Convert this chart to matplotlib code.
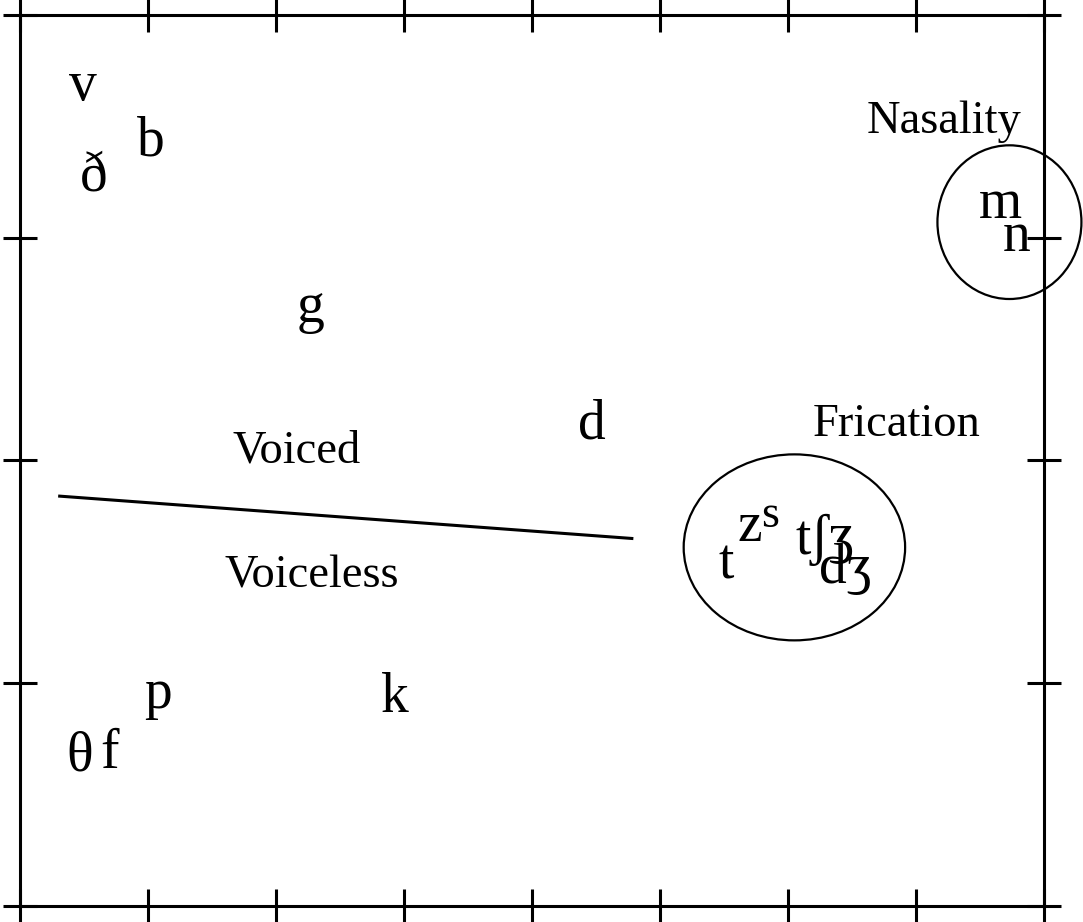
import matplotlib.pyplot as plt
from matplotlib.patches import Ellipse

# phoneme positions (x, y on a 0-8 by 0-4 grid, text baseline)
phonemes = ["v", "b", "ð", "g", "d", "p", "k", "θ", "f",
            "t", "z", "s", "tʃ", "ʒ", "dʒ", "m", "n"]
px = [0.49, 1.02, 0.58, 2.27, 4.47, 1.08, 2.93, 0.47, 0.70,
      5.52, 5.70, 5.86, 6.19, 6.41, 6.45, 7.66, 7.79]
py = [3.62, 3.37, 3.21, 2.62, 2.10, 0.89, 0.87, 0.61, 0.62,
      1.47, 1.64, 1.70, 1.58, 1.59, 1.45, 3.09, 2.94]
psize = [40, 40, 40, 40, 40, 40, 40, 40, 40,
         40, 40, 33, 40, 40, 40, 40, 40]

# feature labels
labels = ["Voiced", "Voiceless", "Frication", "Nasality"]
lx = [2.16, 2.28, 6.85, 7.22]
ly = [1.99, 1.43, 2.11, 3.47]

# voicing boundary
line_x = [0.31, 4.78]
line_y = [1.84, 1.65]

# groupings: center x, center y, width, height
groups_cx = [7.73, 6.05]
groups_cy = [3.07, 1.61]
groups_w = [1.125, 1.73]
groups_h = [0.69, 0.835]

serif = ["Liberation Serif", "DejaVu Serif"]

fig = plt.figure(figsize=(10.83, 9.22), dpi=100)
ax = fig.add_axes([20 / 1083, 16 / 922, 1024 / 1083, 891 / 922])
ax.set_xlim(0, 8)
ax.set_ylim(0, 4)

for lab, x, y, s in zip(phonemes, px, py, psize):
    ax.text(x, y, lab, fontsize=s, family=serif, ha="center", va="baseline")

for lab, x, y in zip(labels, lx, ly):
    ax.text(x, y, lab, fontsize=33.5, family=serif, ha="center", va="baseline")

ax.plot(line_x, line_y, color="black", lw=2.2)

for cx, cy, w, h in zip(groups_cx, groups_cy, groups_w, groups_h):
    ax.add_patch(Ellipse((cx, cy), w, h, fill=False, ec="black", lw=1.6,
                         clip_on=False))

ax.set_xticks(range(0, 9))
ax.set_yticks(range(0, 5))
ax.tick_params(direction="inout", length=24.5, width=2.2, top=True, right=True,
               labelbottom=False, labelleft=False, color="black")
for sp in ax.spines.values():
    sp.set_linewidth(2.2)

fig.savefig("out.png", dpi=100)
